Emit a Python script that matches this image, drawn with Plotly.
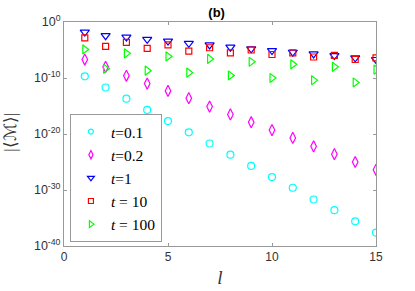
import plotly.graph_objects as go

l_vals = list(range(1, 16))

# log10 of |<M>|
log_t01 = [-9.7, -11.7, -13.7, -15.7, -17.7, -19.7, -21.7, -23.7, -25.7, -27.7, -29.6, -31.7, -33.6, -35.6, -37.6]
log_t02 = [-6.7, -8.0, -9.6, -11.0, -12.3, -13.6, -15.1, -16.5, -17.9, -19.3, -20.7, -22.2, -23.6, -25.0, -26.4]
log_t1 = [-1.8, -2.45, -2.7, -3.1, -3.4, -3.8, -4.1, -4.5, -4.8, -5.1, -5.4, -5.7, -6.0, -6.4, -6.7]
log_t10 = [-2.85, -4.35, -3.65, -4.7, -4.1, -5.2, -4.6, -5.5, -5.0, -5.8, -5.5, -6.25, -5.95, -6.7, -6.4]
log_t100 = [-4.9, -8.35, -5.6, -8.7, -6.15, -9.05, -6.6, -9.55, -7.1, -10.0, -7.55, -10.4, -8.0, -10.8, -8.5]

series_names = ["<i>t</i>=0.1", "<i>t</i>=0.2", "<i>t</i>=1", "<i>t</i> = 10", "<i>t</i> = 100"]
series_logs = [log_t01, log_t02, log_t1, log_t10, log_t100]
series_colors = ["#00FFFF", "#FF00FF", "#0000FF", "#FF0000", "#00FF00"]
series_symbols = ["circle-open", "diamond-tall-open", "triangle-down-open", "square-open", "triangle-right-open"]
series_sizes = [7, 8, 8, 6, 8]
legend_sizes = [5, 6, 6, 5, 6]

y_tick_vals = [1e0, 1e-10, 1e-20, 1e-30, 1e-40]
y_tick_text = ["10<sup>0</sup>", "10<sup>-10</sup>", "10<sup>-20</sup>", "10<sup>-30</sup>", "10<sup>-40</sup>"]
x_tick_vals = [0, 5, 10, 15]
y_title = "|⟨ℳ⟩|"

fig = go.Figure()
for name, logs, col, sym, sz in zip(series_names, series_logs, series_colors, series_symbols, series_sizes):
    fig.add_trace(go.Scatter(
        x=l_vals, y=[10 ** v for v in logs], mode="markers", name=name, showlegend=False,
        marker=dict(symbol=sym, size=sz, color=col, line=dict(width=1.2, color=col)),
    ))
# legend entries with the smaller legend markers of the reference
for name, col, sym, sz in zip(series_names, series_colors, series_symbols, legend_sizes):
    fig.add_trace(go.Scatter(
        x=[None], y=[None], mode="markers", name=name, showlegend=True,
        marker=dict(symbol=sym, size=sz, color=col, line=dict(width=1.2, color=col)),
    ))

axis_col = "#999999"
fig.update_layout(
    width=415, height=291, autosize=False,
    margin=dict(l=64, r=39, t=22, b=45),
    paper_bgcolor="white", plot_bgcolor="white",
    title=dict(text="<b>(b)</b>", x=0.522, xanchor="center", y=0.958, yanchor="middle",
               font=dict(family="Liberation Sans", size=13, color="#000000")),
    font=dict(family="Liberation Sans", size=12, color="#333333"),
    xaxis=dict(range=[0, 15], tickvals=x_tick_vals, ticks="inside", ticklen=3, tickcolor=axis_col,
               showline=True, linecolor=axis_col, linewidth=1, mirror="allticks", showgrid=False, zeroline=False,
               automargin=False,
               tickfont=dict(family="Liberation Sans", size=12, color="#333333"),
               title=dict(text="<i>l</i>", standoff=7, font=dict(family="Liberation Serif", size=19, color="#333333"))),
    yaxis=dict(type="log", range=[-40, 0], tickvals=y_tick_vals, ticktext=y_tick_text,
               ticks="inside", ticklen=3, tickcolor=axis_col,
               showline=True, linecolor=axis_col, linewidth=1, mirror="allticks", showgrid=False, zeroline=False,
               automargin=False,
               tickfont=dict(family="Liberation Sans", size=12.5, color="#333333")),
    legend=dict(x=0.019, y=0.018, xanchor="left", yanchor="bottom", bgcolor="white",
                bordercolor=axis_col, borderwidth=1,
                font=dict(family="Liberation Serif", size=15.5, color="#000000"),
                itemwidth=30, tracegroupgap=0),
    showlegend=True,
    annotations=[dict(text=y_title, xref="paper", yref="paper", x=-0.17, y=0.51,
                      xanchor="center", yanchor="middle", textangle=-90, showarrow=False,
                      font=dict(family="Liberation Serif", size=17, color="#333333"))],
)

fig.write_html("out.html", config={"displayModeBar": False},
               post_script="document.body.style.margin='0';")
